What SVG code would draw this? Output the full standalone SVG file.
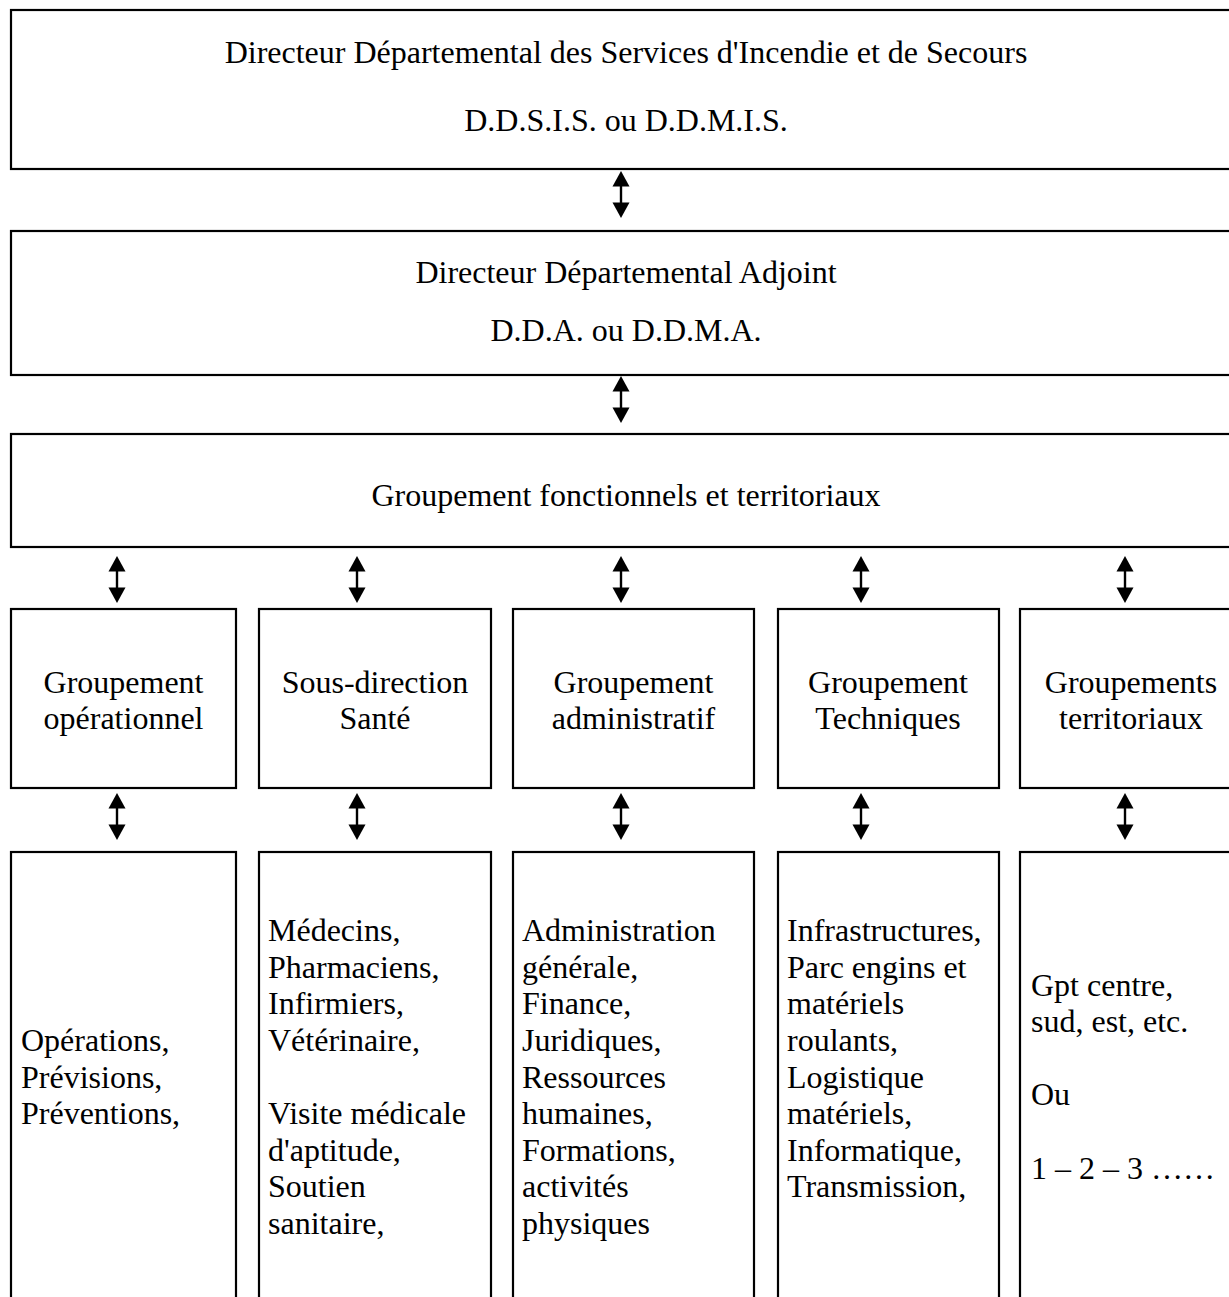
<svg xmlns="http://www.w3.org/2000/svg" width="1229" height="1297" viewBox="0 0 1229 1297">
<defs>
<style>
.box{fill:#fff;stroke:#000;stroke-width:2.2}
.t{font-family:"Liberation Serif","Times New Roman",serif;font-size:32px;fill:#000}
.c{text-anchor:middle}
.shaft{stroke:#000;stroke-width:2.4;fill:none}
.head{fill:#000}
</style>
<g id="arrow">
<line class="shaft" x1="0" y1="8" x2="0" y2="40"/>
<polygon class="head" points="0,0 -8.5,15.5 8.5,15.5"/>
<polygon class="head" points="0,47 -8.5,31.5 8.5,31.5"/>
</g>
</defs>
<rect width="1229" height="1297" fill="#fff"/>

<g id="n-ddsis">
<rect class="box" x="11" y="10" width="1232" height="159"/>
<text class="t c" x="626" y="63">Directeur Départemental des Services d'Incendie et de Secours</text>
<text class="t c" x="626" y="131">D.D.S.I.S. ou D.D.M.I.S.</text>
</g>

<g id="n-dda">
<rect class="box" x="11" y="231" width="1232" height="144"/>
<text class="t c" x="626" y="283">Directeur Départemental Adjoint</text>
<text class="t c" x="626" y="341">D.D.A. ou D.D.M.A.</text>
</g>

<g id="n-gft">
<rect class="box" x="11" y="434" width="1232" height="113"/>
<text class="t c" x="626" y="506">Groupement fonctionnels et territoriaux</text>
</g>

<g id="n-gop">
<rect class="box" x="11" y="609" width="225" height="179"/>
<text class="t c" x="123.5" y="693">Groupement</text>
<text class="t c" x="123.5" y="729">opérationnel</text>
</g>
<g id="n-sante">
<rect class="box" x="259" y="609" width="232" height="179"/>
<text class="t c" x="375" y="693">Sous-direction</text>
<text class="t c" x="375" y="729">Santé</text>
</g>
<g id="n-gadm">
<rect class="box" x="513" y="609" width="241" height="179"/>
<text class="t c" x="633.5" y="693">Groupement</text>
<text class="t c" x="633.5" y="729">administratif</text>
</g>
<g id="n-gtech">
<rect class="box" x="778" y="609" width="221" height="179"/>
<text class="t c" x="888" y="693">Groupement</text>
<text class="t c" x="888" y="729">Techniques</text>
</g>
<g id="n-gter">
<rect class="box" x="1020" y="609" width="223" height="179"/>
<text class="t c" x="1131" y="693">Groupements</text>
<text class="t c" x="1131" y="729">territoriaux</text>
</g>

<g id="d-op">
<rect class="box" x="11" y="852" width="225" height="460"/>
<text class="t" x="21" y="1051">Opérations,</text>
<text class="t" x="21" y="1087.5">Prévisions,</text>
<text class="t" x="21" y="1124">Préventions,</text>
</g>
<g id="d-sante">
<rect class="box" x="259" y="852" width="232" height="460"/>
<text class="t" x="268" y="941">Médecins,</text>
<text class="t" x="268" y="977.5">Pharmaciens,</text>
<text class="t" x="268" y="1014">Infirmiers,</text>
<text class="t" x="268" y="1051">Vétérinaire,</text>
<text class="t" x="268" y="1124">Visite médicale</text>
<text class="t" x="268" y="1160.5">d'aptitude,</text>
<text class="t" x="268" y="1197">Soutien</text>
<text class="t" x="268" y="1234">sanitaire,</text>
</g>
<g id="d-adm">
<rect class="box" x="513" y="852" width="241" height="460"/>
<text class="t" x="522" y="941">Administration</text>
<text class="t" x="522" y="977.5">générale,</text>
<text class="t" x="522" y="1014">Finance,</text>
<text class="t" x="522" y="1051">Juridiques,</text>
<text class="t" x="522" y="1087.5">Ressources</text>
<text class="t" x="522" y="1124">humaines,</text>
<text class="t" x="522" y="1160.5">Formations,</text>
<text class="t" x="522" y="1197">activités</text>
<text class="t" x="522" y="1234">physiques</text>
</g>
<g id="d-tech">
<rect class="box" x="778" y="852" width="221" height="460"/>
<text class="t" x="787" y="941">Infrastructures,</text>
<text class="t" x="787" y="977.5">Parc engins et</text>
<text class="t" x="787" y="1014">matériels</text>
<text class="t" x="787" y="1051">roulants,</text>
<text class="t" x="787" y="1087.5">Logistique</text>
<text class="t" x="787" y="1124">matériels,</text>
<text class="t" x="787" y="1160.5">Informatique,</text>
<text class="t" x="787" y="1197">Transmission,</text>
</g>
<g id="d-ter">
<rect class="box" x="1020" y="852" width="223" height="460"/>
<text class="t" x="1031" y="996">Gpt centre,</text>
<text class="t" x="1031" y="1032">sud, est, etc.</text>
<text class="t" x="1031" y="1105">Ou</text>
<text class="t" x="1031" y="1179">1 – 2 – 3 ……</text>
</g>

<g id="connectors">
<use href="#arrow" x="621" y="171"/>
<use href="#arrow" x="621" y="376"/>
<use href="#arrow" x="117" y="556"/>
<use href="#arrow" x="357" y="556"/>
<use href="#arrow" x="621" y="556"/>
<use href="#arrow" x="861" y="556"/>
<use href="#arrow" x="1125" y="556"/>
<use href="#arrow" x="117" y="793"/>
<use href="#arrow" x="357" y="793"/>
<use href="#arrow" x="621" y="793"/>
<use href="#arrow" x="861" y="793"/>
<use href="#arrow" x="1125" y="793"/>
</g>
</svg>
